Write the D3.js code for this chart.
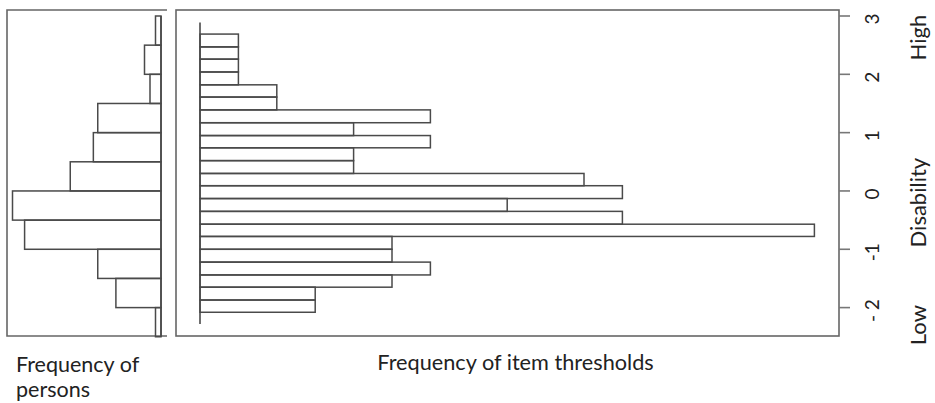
<!DOCTYPE html>
<html><head><meta charset="utf-8">
<script src="https://cdn.jsdelivr.net/npm/d3@7"></script>
<style>
body{margin:0;background:#fff}
text{font-family:Lato,"Open Sans",sans-serif;fill:#222}
</style>
</head><body><svg id="c" width="935" height="403"></svg>
<script>
// Persons histogram (bin upper edges, logits) and counts
const personBinUpper = [3.0, 2.5, 2.0, 1.5, 1.0, 0.5, 0.0, -0.5, -1.0, -1.5, -2.0];
const personBinWidth = 0.5;
const personCounts = [1, 3, 2, 11.5, 12.3, 16.5, 27, 24.8, 11.5, 8.2, 1];

// Item thresholds histogram: bin edges (top to bottom) and counts
const thresholdEdges = [2.69, 2.47, 2.26, 2.04, 1.82, 1.61, 1.39, 1.17, 0.95, 0.74, 0.52, 0.30,
  0.09, -0.13, -0.35, -0.57, -0.78, -1.0, -1.22, -1.44, -1.65, -1.87, -2.08];
const thresholdCounts = [1, 1, 1, 1, 2, 2, 6, 4, 6, 4, 4, 10, 11, 8, 11, 16, 5, 5, 6, 5, 3, 3];

const yTicks = [-2, -1, 0, 1, 2, 3];
const yTickLabels = ["- 2", "-1", "0", "1", "2", "3"];
const sideLabels = ["Low", "Disability", "High"];
const xTitles = ["Frequency of item thresholds", "Frequency of", "persons"];

const svg = d3.select("#c");
const ink = "#4a4a4a";

const y = d3.scaleLinear().domain([-2, 3]).range([307.6, 16]);
const xL = d3.scaleLinear().domain([0, 28]).range([161, 7]);
const xR = d3.scaleLinear().domain([0, 16]).range([200, 814.4]);

// Left panel frame (top, left, bottom)
svg.append("path")
  .attr("d", `M167,10 H7 V336 H167`)
  .attr("fill", "none").attr("stroke", "#666").attr("stroke-width", 1.6);

// Right panel frame
svg.append("rect").attr("x", 176).attr("y", 10).attr("width", 663).attr("height", 326)
  .attr("fill", "none").attr("stroke", "#666").attr("stroke-width", 1.6);

// Person bars
svg.append("g").selectAll("rect").data(personCounts).join("rect")
  .attr("x", d => xL(d))
  .attr("y", (d, i) => y(personBinUpper[i]))
  .attr("width", d => xL(0) - xL(d))
  .attr("height", (d, i) => y(personBinUpper[i] - personBinWidth) - y(personBinUpper[i]))
  .attr("fill", "none").attr("stroke", ink).attr("stroke-width", 1.5);

// Person baseline
svg.append("line")
  .attr("x1", xL(0)).attr("x2", xL(0))
  .attr("y1", y(personBinUpper[0])).attr("y2", y(personBinUpper[personBinUpper.length - 1] - personBinWidth))
  .attr("stroke", ink).attr("stroke-width", 1.6);

// Threshold bars
svg.append("g").selectAll("rect").data(thresholdCounts).join("rect")
  .attr("x", xR(0))
  .attr("y", (d, i) => y(thresholdEdges[i]))
  .attr("width", d => xR(d) - xR(0))
  .attr("height", (d, i) => y(thresholdEdges[i + 1]) - y(thresholdEdges[i]))
  .attr("fill", "none").attr("stroke", ink).attr("stroke-width", 1.5);

// Threshold baseline (extends beyond the bins)
svg.append("line")
  .attr("x1", xR(0)).attr("x2", xR(0))
  .attr("y1", y(thresholdEdges[0] + 0.2)).attr("y2", y(thresholdEdges[thresholdEdges.length - 1] - 0.2))
  .attr("stroke", ink).attr("stroke-width", 1.6);

// Right axis
const axisG = svg.append("g").attr("transform", "translate(839,0)");
axisG.selectAll("line.tick").data(yTicks).join("line")
  .attr("class", "tick")
  .attr("x1", 0).attr("x2", 11)
  .attr("y1", d => y(d)).attr("y2", d => y(d))
  .attr("stroke", "#777").attr("stroke-width", 1.6);
axisG.selectAll("text.tl").data(yTicks).join("text")
  .attr("class", "tl")
  .attr("transform", (d) => `translate(32,${y(d) + 3}) rotate(-90)`)
  .attr("text-anchor", "middle")
  .attr("dominant-baseline", "central")
  .attr("font-size", 19)
  .text((d, i) => yTickLabels[i]);

const sidePos = [-2.3, -0.2, 2.63];
axisG.selectAll("text.sl").data(sideLabels).join("text")
  .attr("class", "sl")
  .attr("transform", (d, i) => `translate(78,${y(sidePos[i])}) rotate(-90)`)
  .attr("text-anchor", "middle")
  .attr("dominant-baseline", "central")
  .attr("font-size", 22)
  .text(d => d);

// X titles
svg.append("text").attr("x", 515.5).attr("y", 370).attr("text-anchor", "middle")
  .attr("font-size", 21.7).text(xTitles[0]);
svg.append("text").attr("x", 16).attr("y", 371.5)
  .attr("font-size", 21.5).text(xTitles[1]);
svg.append("text").attr("x", 16).attr("y", 396.5)
  .attr("font-size", 21.5).text(xTitles[2]);
</script>
</body></html>
